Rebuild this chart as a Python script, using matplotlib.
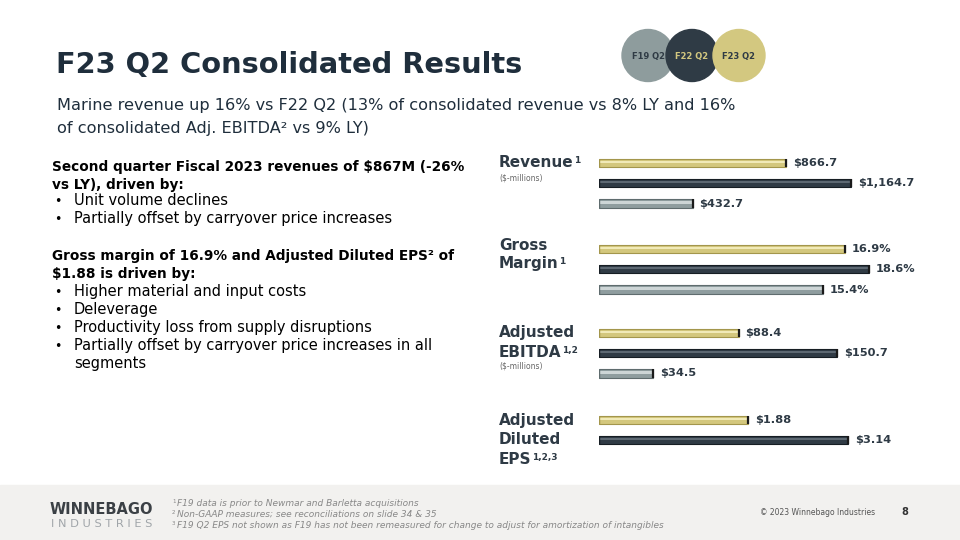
import matplotlib
matplotlib.use("Agg")
import matplotlib.pyplot as plt
from matplotlib.patches import Circle, Rectangle

# ---------------- data ----------------
periods = ["F23 Q2", "F22 Q2", "F19 Q2"]
revenue = [866.7, 1164.7, 432.7]
revenue_labels = ["$866.7", "$1,164.7", "$432.7"]
gross_margin = [16.9, 18.6, 15.4]
gross_margin_labels = ["16.9%", "18.6%", "15.4%"]
adj_ebitda = [88.4, 150.7, 34.5]
adj_ebitda_labels = ["$88.4", "$150.7", "$34.5"]
adj_eps = [1.88, 3.14]
adj_eps_labels = ["$1.88", "$3.14"]

legend_order = ["F19 Q2", "F22 Q2", "F23 Q2"]

title = "F23 Q2 Consolidated Results"
subtitle = ["Marine revenue up 16% vs F22 Q2 (13% of consolidated revenue vs 8% LY and 16%",
            "of consolidated Adj. EBITDA² vs 9% LY)"]
body = [
    ("b", "Second quarter Fiscal 2023 revenues of $867M (-26%"),
    ("b", "vs LY), driven by:"),
    ("i", "Unit volume declines"),
    ("i", "Partially offset by carryover price increases"),
    ("b", "Gross margin of 16.9% and Adjusted Diluted EPS² of"),
    ("b", "$1.88 is driven by:"),
    ("i", "Higher material and input costs"),
    ("i", "Deleverage"),
    ("i", "Productivity loss from supply disruptions"),
    ("i", "Partially offset by carryover price increases in all"),
    ("c", "segments"),
]
footnotes = ["F19 data is prior to Newmar and Barletta acquisitions",
             "Non-GAAP measures; see reconciliations on slide 34 & 35",
             "F19 Q2 EPS not shown as F19 has not been remeasured for change to adjust for amortization of intangibles"]

# ---------------- style ----------------
DARK = "#1f2e3c"
NAVY = "#2e3a45"
cols = {"F23 Q2": ("#d3c77d", "#a3964c", "#f1eab8"),
        "F22 Q2": ("#303b45", "#161d23", "#5d6872"),
        "F19 Q2": ("#8f9d9f", "#5f6c6e", "#cdd5d6")}
circle_fill = {"F19 Q2": "#8e9c9d", "F22 Q2": "#2f3b45", "F23 Q2": "#d3c880"}
circle_text = {"F19 Q2": "#2f3b45", "F22 Q2": "#d3c880", "F23 Q2": "#2f3b45"}

plt.rcParams["font.family"] = ["DejaVu Sans"]

W, H = 960, 540
fig = plt.figure(figsize=(9.6, 5.4), dpi=100)
fig.patch.set_facecolor("white")

bg = fig.add_axes([0, 0, 1, 1])
bg.set_xlim(0, W)
bg.set_ylim(H, 0)
bg.axis("off")

# footer band
bg.add_patch(Rectangle((0, 485), W, 55, color="#f2f1ef", zorder=0))

# title and subtitle
bg.text(56, 73, title, fontsize=20.8, fontweight="bold", color=DARK, va="baseline")
bg.text(57, 110, subtitle[0], fontsize=11.6, color=DARK, va="baseline")
bg.text(57, 133, subtitle[1], fontsize=11.6, color=DARK, va="baseline")

# legend circles
centers = {"F19 Q2": 648, "F22 Q2": 692, "F23 Q2": 739}
for i, p in enumerate(legend_order):
    bg.add_patch(Circle((centers[p], 55.5), 26, color=circle_fill[p], zorder=2 + i))
    bg.text(centers[p], 56, p, fontsize=6, fontweight="bold", color=circle_text[p],
            ha="center", va="center", zorder=10)

# body text
body_y = [171, 189, 205, 223, 260, 278, 296, 314, 332, 350, 368]
for (kind, txt), y in zip(body, body_y):
    if kind == "b":
        bg.text(52, y, txt, fontsize=9.8, fontweight="bold", color="black", va="baseline")
    else:
        if kind == "i":
            bg.text(54, y, "•", fontsize=9, color="black", va="baseline")
        bg.text(74, y, txt, fontsize=10.5, color="black", va="baseline")

# group labels
def glabel(y, txt, sup=None, big=True):
    if big:
        t = bg.text(499, y, txt, fontsize=11, fontweight="bold", color=NAVY, va="baseline")
        if sup:
            bg.annotate(sup, xy=(1, 1), xycoords=t, xytext=(0.3, -0.8),
                        textcoords="offset points", fontsize=6.5, fontweight="bold",
                        color=NAVY, va="top", ha="left")
    else:
        bg.text(499, y, txt, fontsize=5.5, color="#666666", va="baseline")

glabel(167, "Revenue", "1")
glabel(181, "($-millions)", big=False)
glabel(250, "Gross")
glabel(268, "Margin", "1")
glabel(337, "Adjusted")
glabel(357, "EBITDA", "1,2")
glabel(368, "($-millions)", big=False)
glabel(425, "Adjusted")
glabel(444, "Diluted")
glabel(464, "EPS", "1,2,3")

# bar groups: (values, labels, top px, xmax)
groups = [
    (revenue, revenue_labels, 153, 1387),
    (gross_margin, gross_margin_labels, 239, 20.65),
    (adj_ebitda, adj_ebitda_labels, 323, 190),
    (adj_eps, adj_eps_labels, 410, 3.78),
]
slot = 20.2
for vals, labs, top, xmax in groups:
    ax = fig.add_axes([599 / W, 1 - (top + 3 * slot) / H, 300 / W, 3 * slot / H])
    ax.set_xlim(0, xmax)
    ax.set_ylim(2.5, -0.5)
    ax.axis("off")
    for i, (v, lab) in enumerate(zip(vals, labs)):
        base, edge, hi = cols[periods[i]]
        ax.barh(i, v, height=0.40, color=base, edgecolor=edge, linewidth=0.8, left=0)
        ax.barh(i - 0.05, v, height=0.10, color=hi, linewidth=0, left=0)
        ax.plot([v, v], [i - 0.2, i + 0.2], color="#1a1a1a", lw=1.6, solid_capstyle="butt")
        ax.plot([0, 0], [i - 0.2, i + 0.2], color=edge, lw=1.0, solid_capstyle="butt")
        ax.annotate(lab, (v, i), xytext=(5, 0), textcoords="offset points",
                    fontsize=8.2, fontweight="bold", color=NAVY, va="center", ha="left",
                    annotation_clip=False)

# footer
bg.text(50, 514, "WINNEBAGO", fontsize=10.5, fontweight="bold", color="#3b4045", va="baseline")
bg.text(51, 527, "I N D U S T R I E S", fontsize=8.2, color="#a0a5a9", va="baseline")
for k, (fn, y) in enumerate(zip(footnotes, [506, 517, 528])):
    bg.text(172, y - 3, "123"[k], fontsize=4, color="#888888", va="baseline")
    bg.text(177, y, fn, fontsize=6.5, style="italic", color="#888888", va="baseline")
bg.text(760, 515, "© 2023 Winnebago Industries", fontsize=5.5, color="#555555", va="baseline")
bg.text(901, 515, "8", fontsize=7, fontweight="bold", color="#333333", va="baseline")

fig.savefig("out.png", dpi=100, facecolor="white")
